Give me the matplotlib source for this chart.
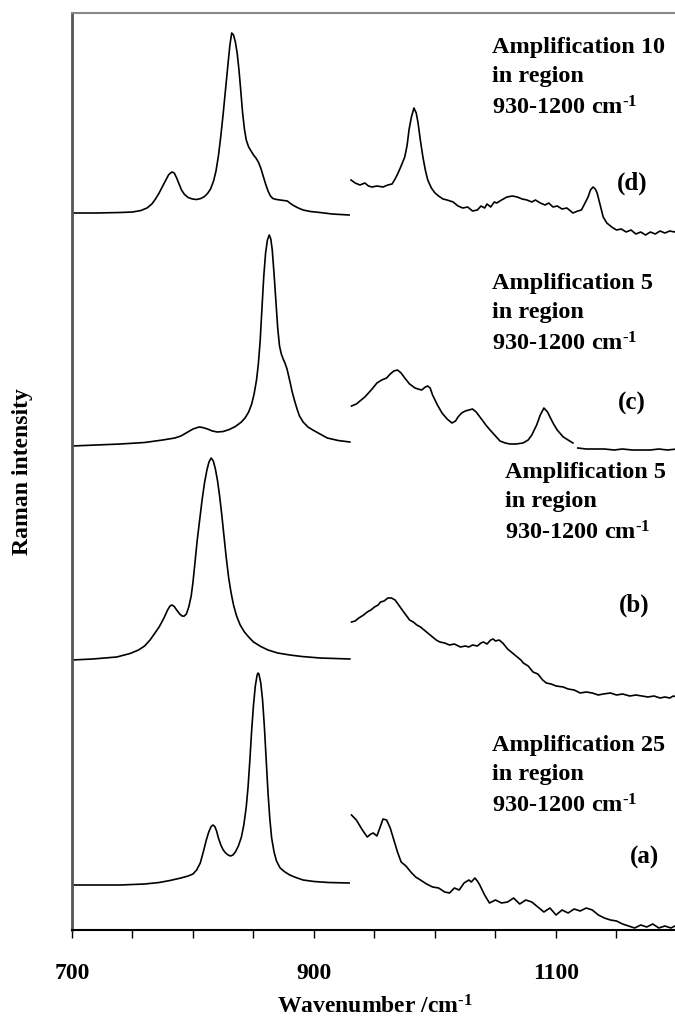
import numpy as np
import matplotlib.pyplot as plt
from matplotlib.ticker import FixedLocator, MultipleLocator

plt.rcParams['font.family'] = ['Liberation Serif', 'DejaVu Serif']
plt.rcParams['font.weight'] = 'bold'
plt.rcParams['mathtext.fontset'] = 'custom'
plt.rcParams['mathtext.rm'] = 'Liberation Serif:bold'
plt.rcParams['mathtext.it'] = 'Liberation Serif:bold'
plt.rcParams['mathtext.bf'] = 'Liberation Serif:bold'

#%% data (arbitrary intensity units)
labels = ['(a)', '(b)', '(c)', '(d)']
amplification = [25, 5, 5, 10]
offsets = [45, 270, 484, 717]   # vertical stacking of the spectra

# (a) 700-930 cm-1
a_lo_x = [700, 740, 760, 772, 781, 790, 796, 800, 803, 806, 808.5, 811, 813, 815, 816.5, 818, 819.5, 821,
          823, 825, 827, 829, 831, 833, 835, 837.5, 840, 842, 844, 845.5, 847, 848.5, 850, 851.5, 853,
          853.7, 854.5, 856, 857.5, 859, 860.5, 862, 863.5, 865, 867, 869, 872, 876, 880, 885, 891, 900,
          912, 929]
a_lo_y = [0, 0, 1, 2.5, 4.5, 7, 9, 11, 15, 22, 33, 45, 53, 58.5, 60, 58.5, 54, 47,
          40, 35, 32, 30, 29, 30, 33, 39, 48, 60, 78, 98, 125, 155, 180, 199, 210,
          212, 211, 202, 185, 158, 125, 92, 66, 47, 33, 24, 17, 13, 10, 7.5, 5, 3.5,
          2.5, 2]
# (a) 930-1200 cm-1, x25
a_hi_x = [931, 935, 940, 944, 947, 949, 952, 955, 957, 960, 963, 966, 969, 972, 976, 980, 984, 988, 993,
          998, 1003, 1008, 1012, 1016, 1020, 1024, 1028, 1030, 1033, 1035, 1037, 1041, 1045, 1050, 1055,
          1060, 1065, 1070, 1075, 1080, 1085, 1090, 1095, 1100, 1105, 1110, 1115, 1120, 1125, 1130,
          1135, 1140, 1145, 1150, 1155, 1160, 1165, 1170, 1175, 1180, 1185, 1190, 1195, 1200]
a_hi_y = [70, 65, 55, 48, 51, 52, 49, 59, 66, 65, 57, 45, 33, 23, 19, 13, 8, 5, 1,
          -2, -3, -7, -8, -3, -5, 2, 5, 3, 7, 4, 0, -10, -18, -15, -18,
          -17, -13, -19, -15, -17, -22, -27, -23, -30, -25, -28, -24, -26, -23, -25,
          -30, -33, -35, -36, -39, -41, -43, -40, -42, -39, -43, -41, -43, -40]

# (b) 700-930 cm-1
b_lo_x = [700, 717, 737, 748, 755, 760, 764.5, 768, 772, 776, 779, 781, 782.6, 784.5, 786.5, 789, 791,
          792.6, 794.5, 796.5, 798.5, 800, 801.6, 803.5, 805.5, 807.5, 809.5, 811.5, 813.2, 815, 816.8,
          818.5, 820.3, 822, 823.8, 825.6, 827.5, 829.5, 831.5, 833.5, 836, 839, 842.5, 846, 850, 856,
          862, 870, 880, 890, 905, 929.6]
b_lo_y = [0, 1, 3, 6.5, 10, 14, 20, 26, 33, 42, 50, 54, 55, 53.5, 50, 46, 44,
          43.8, 46, 53, 64, 78, 97, 120, 140, 160, 177, 190, 198, 202, 199,
          191, 179, 164, 145, 124, 102, 82, 67, 55, 44, 35, 28, 23, 18, 13.5,
          10, 7, 5, 3.5, 2, 1]
# (b) 930-1200 cm-1, x5
b_hi_x = [931, 934, 937, 941, 944, 947, 950, 953, 955, 958, 961, 964, 967, 970, 973.5, 976, 979, 982,
          985, 988, 991, 995, 998, 1001, 1004, 1008, 1012, 1016, 1021, 1025, 1028, 1031, 1035, 1038,
          1040, 1043, 1046, 1048, 1050, 1053, 1056, 1060, 1064, 1068, 1071, 1073, 1077, 1081, 1085,
          1089, 1092, 1096, 1100, 1106, 1110, 1115, 1120, 1125, 1130, 1135, 1139, 1145, 1150, 1155,
          1161, 1166, 1171, 1176, 1181, 1186, 1190, 1194, 1197, 1200]
b_hi_y = [38, 39, 42, 45, 48, 50, 53, 55, 58, 59, 62, 62, 60, 55, 49, 45, 40, 38,
          35, 33, 30, 26, 23, 20, 18, 17, 15, 16, 13, 14, 13, 15, 14, 17,
          18, 16, 20, 21, 19, 20, 17, 11, 7, 3, 0, -3, -6, -12, -14,
          -20, -23, -24, -26, -27, -29, -30, -33, -32, -33, -35, -34, -33, -35, -34,
          -36, -35, -36, -37, -36, -38, -37, -38, -36, -37]

# (c) 700-930 cm-1
c_lo_x = [700, 720, 740, 760, 775, 785, 790, 795, 800, 805, 808, 812, 816, 820, 825, 830, 835, 840, 843,
          846, 848.5, 850.5, 852.5, 854, 855.5, 857, 858.5, 860, 861.5, 863, 864.3, 865.5, 867, 868.5,
          870, 871.5, 873, 874.5, 876, 877.7, 880, 882, 884, 886, 888, 891, 895, 899, 905, 911, 920,
          929.6]
c_lo_y = [0, 1, 2, 3.5, 6, 8, 10, 13.5, 17, 19, 18.5, 17, 15, 14, 14.5, 16.5, 19.5, 24, 28,
          34, 42, 52, 66, 82, 105, 138, 170, 193, 206, 211, 207, 196, 172, 145,
          118, 100, 92, 87, 83, 77, 65, 54, 45, 37, 30, 24, 19, 16, 12, 8, 5.5,
          4]
# (c) 930-1200 cm-1, x5 (small break near 1115)
c_hi_x = [931, 935, 939, 942, 945, 948, 952, 956, 960, 963, 966, 969, 972, 975, 979, 983.5, 986, 989,
          992, 994, 996, 998, 1002, 1005.8, 1010, 1014, 1017, 1019, 1022, 1025, 1028, 1031, 1034,
          1039, 1042, 1045.5, 1050, 1053.7, 1058, 1062, 1067, 1072.7, 1077, 1080, 1084, 1087, 1090,
          1093, 1095, 1098, 1101, 1106, 1110, 1114, 1116,
          1118, 1125, 1132, 1140, 1148, 1155, 1163, 1170, 1178, 1185, 1192, 1200]
c_hi_y = [40, 42, 46, 49, 53, 57, 63, 66, 68, 72, 75, 76, 73, 68, 62, 58, 57, 56,
          59, 60, 58, 51, 41, 33, 27, 23, 25, 29, 33, 35, 36, 37, 34,
          26, 21, 16, 10, 5, 3, 2, 2, 3, 6, 11, 21, 31, 38,
          34, 29, 22, 16, 9, 6, 3, np.nan,
          -2, -3, -3, -3, -4, -3, -4, -4, -4, -3, -4, -3]

# (d) 700-930 cm-1
d_lo_x = [700, 720, 740, 750, 757, 762, 766, 769, 772, 775, 778, 780, 782.6, 784.5, 786.5, 788.5, 790.5,
          793, 796, 799.5, 803, 806.5, 809.5, 812, 814.5, 817, 819, 821, 823, 825, 827, 829, 830.5,
          832, 833.5, 835, 836.5, 838, 839.5, 841, 842.5, 844, 846, 848, 850, 852, 854, 856, 858, 860,
          862, 864, 866, 869, 872, 875, 878, 880, 883, 887, 891, 897, 905, 915, 929]
d_lo_y = [0, 0, 0.5, 1, 2.5, 5, 9, 14, 20, 27, 34, 38.5, 41, 40, 35, 29, 23,
          18.5, 15.5, 14, 13.5, 14.5, 16.5, 19.5, 24, 32, 42, 57, 77, 100, 125, 150, 168,
          180, 178, 171, 160, 143, 122, 100, 84, 73, 66, 62, 58, 55, 51, 45, 37, 29,
          22, 17, 14.5, 13.5, 13, 12.5, 12, 10, 7.5, 5, 3, 1.5, 0.5, -1, -2]
# (d) 930-1200 cm-1, x10
d_hi_x = [930.6, 934, 938, 942, 945, 948, 952, 957, 961, 964.5, 967, 969.5, 972, 975, 977, 978.5, 980.5,
          982.6, 984.5, 986, 988, 990, 992, 994, 997, 1000, 1003, 1006.6, 1010, 1015, 1019, 1023, 1027,
          1031, 1035, 1038, 1041, 1043, 1046, 1049, 1051, 1055, 1059.5, 1064, 1068, 1072, 1076, 1080,
          1083, 1087, 1091, 1094, 1097.5, 1101, 1105, 1109, 1114, 1118, 1121, 1124, 1126.5, 1128.5,
          1130.6, 1132.5, 1134, 1136.5, 1139, 1142, 1146, 1150, 1154, 1158, 1162, 1166, 1170, 1174,
          1178, 1182, 1186, 1190, 1194, 1198, 1200]
d_hi_y = [33, 30, 28, 30, 27, 26, 27, 26, 28, 29, 34, 40, 47, 56, 68, 83, 96,
          105, 100, 90, 72, 56, 43, 33, 25, 20, 17, 14, 13, 11, 7, 5, 6,
          2, 3, 7, 5, 9, 6, 11, 10, 13, 16, 17, 16, 14, 13, 11,
          13, 10, 8, 10, 6, 7, 4, 5, 0, 2, 3, 10, 16, 23,
          26, 24, 20, 8, -4, -10, -14, -17, -16, -19, -17, -21, -19, -22,
          -19, -21, -18, -20, -18, -19, -17]

spectra = [
    (a_lo_x, a_lo_y, a_hi_x, a_hi_y),
    (b_lo_x, b_lo_y, b_hi_x, b_hi_y),
    (c_lo_x, c_lo_y, c_hi_x, c_hi_y),
    (d_lo_x, d_lo_y, d_hi_x, d_hi_y),
]

# text positions (data coords): note block left/middle, label centre
note_pos = [(1047, 154), (1058, 427), (1047, 616), (1047, 852)]
label_pos = [(1173, 73), (1165, 325), (1163, 527), (1163, 747)]

#%% plot
fig = plt.figure(figsize=(6.75, 10.27), dpi=100)
ax = fig.add_axes([72 / 675, 97 / 1027, 605 / 675, 917 / 1027])

for i, (xl, yl, xh, yh) in enumerate(spectra):
    ax.plot(xl, np.array(yl, dtype=float) + offsets[i], color='black', lw=1.2)
    ax.plot(xh, np.array(yh, dtype=float) + offsets[i], color='black', lw=1.2)
    note = f"Amplification {amplification[i]}\nin region\n930-1200 cm$^{{\\text{{-1}}}}$"
    ax.text(note_pos[i][0], note_pos[i][1], note, fontsize=17.5, fontweight='bold',
            ha='left', va='center', linespacing=1.5)
    ax.text(label_pos[i][0], label_pos[i][1], labels[i], fontsize=18, fontweight='bold',
            ha='center', va='center')

ax.set_xlim(700, 1200)
ax.set_ylim(0, 917)
ax.xaxis.set_major_locator(FixedLocator([700, 900, 1100]))
ax.xaxis.set_minor_locator(MultipleLocator(50))
ax.tick_params(axis='x', which='both', direction='out', length=6, width=1, color='black')
ax.tick_params(axis='x', which='major', labelsize=17, pad=18)
for lab in ax.get_xticklabels():
    lab.set_fontweight('bold')
ax.set_yticks([])

ax.spines['right'].set_visible(False)
ax.spines['top'].set_color('#888888')
ax.spines['top'].set_linewidth(1.5)
ax.spines['left'].set_color('#555555')
ax.spines['left'].set_linewidth(2)
ax.spines['bottom'].set_color('black')
ax.spines['bottom'].set_linewidth(1.5)

ax.set_xlabel('Wavenumber /cm$^{\\text{-1}}$', fontsize=17, fontweight='bold', labelpad=8)
ax.set_ylabel('Raman intensity', fontsize=17, fontweight='bold', labelpad=28)

fig.savefig('out.png', dpi=100)
